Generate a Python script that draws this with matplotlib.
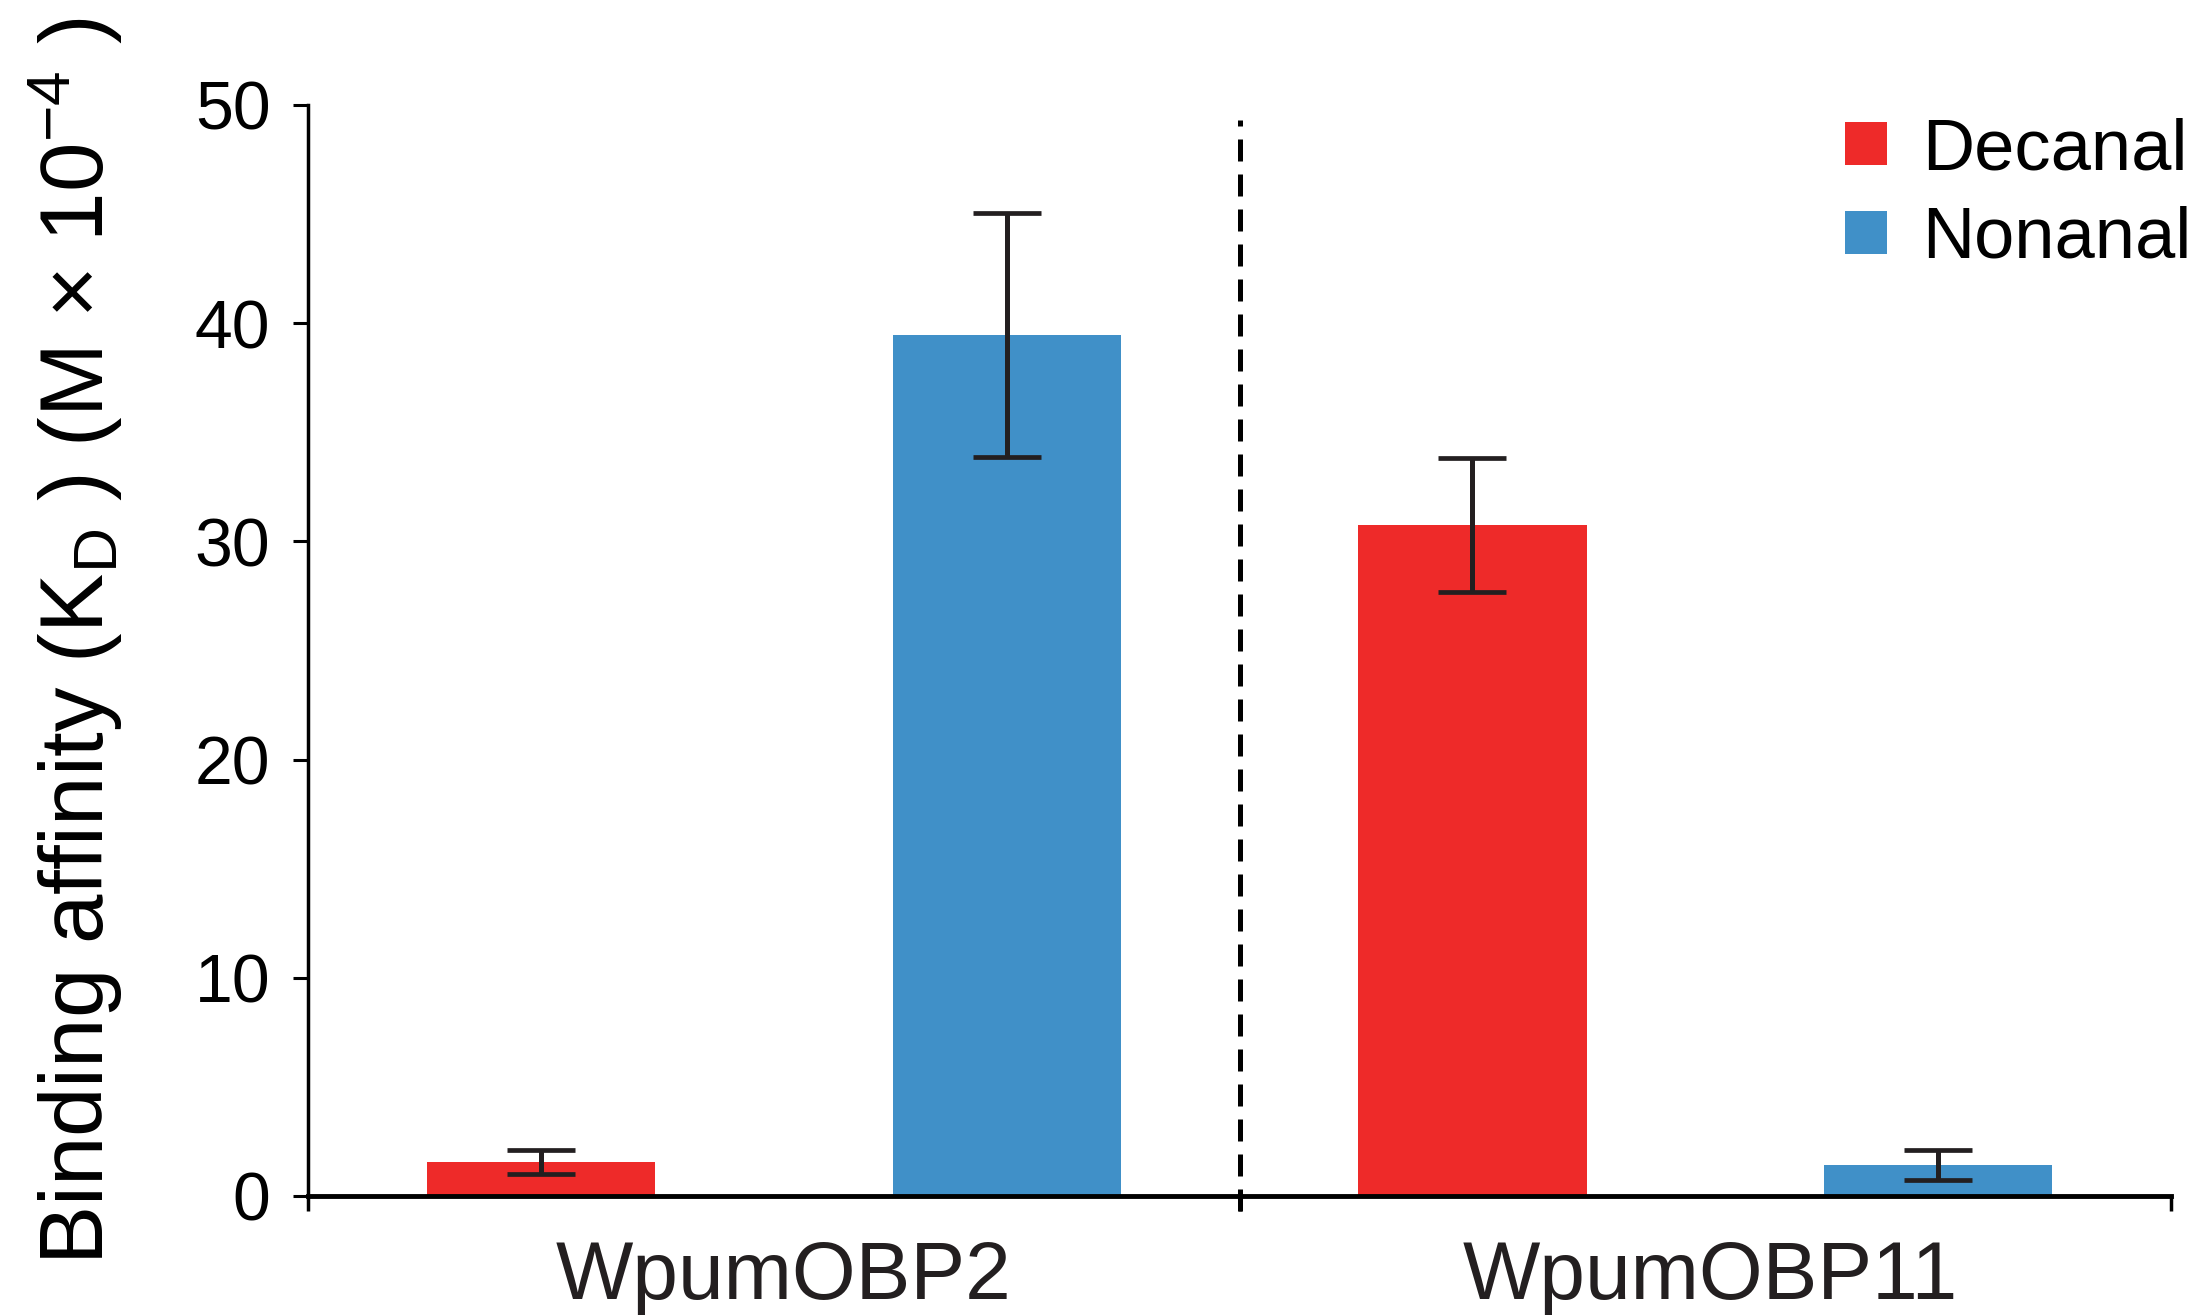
import matplotlib
matplotlib.use("Agg")
import matplotlib.pyplot as plt

plt.rcParams["font.family"] = ["Liberation Sans", "DejaVu Sans"]
plt.rcParams["mathtext.fontset"] = "custom"
plt.rcParams["mathtext.rm"] = "Liberation Sans"
plt.rcParams["mathtext.it"] = "Liberation Sans:italic"

# Data
proteins = ["WpumOBP2", "WpumOBP11"]
ligands = ["Decanal", "Nonanal"]
decanal_kd = [1.55, 30.75]
decanal_err = [0.54, 3.08]
nonanal_kd = [39.46, 1.42]
nonanal_err = [5.58, 0.68]

red = "#ee2a29"
blue = "#4090c8"
ink = "#231f20"

fig = plt.figure(figsize=(22.03, 13.15), dpi=100)
ax = fig.add_axes([0.1398, 0.0905, 0.8457, 0.8297])

# Bars: each protein gets a group of width 2
dec_pos = [0.5, 2.5]
non_pos = [1.5, 3.5]
err_kw = dict(ecolor=ink, elinewidth=3.6, capthick=3.4, capsize=24.5)
b_dec = ax.bar(dec_pos, decanal_kd, width=0.49, color=red, yerr=decanal_err,
               error_kw=err_kw, label=ligands[0], zorder=2)
b_non = ax.bar(non_pos, nonanal_kd, width=0.49, color=blue, yerr=nonanal_err,
               error_kw=err_kw, label=ligands[1], zorder=2)

# Divider between the two proteins
ax.vlines(2, -0.7, 49.3, colors="black", linewidth=3.6,
          linestyles=(0, (4.4, 2.6)), clip_on=False, zorder=3)

ax.set_xlim(0, 4)
ax.set_ylim(0, 50)

# Spines
for s in ["top", "right"]:
    ax.spines[s].set_visible(False)
ax.spines["left"].set_linewidth(2.5)
ax.spines["bottom"].set_linewidth(3.5)
ax.spines["left"].set_zorder(4)
ax.spines["bottom"].set_zorder(4)

# Y axis
ax.set_yticks([0, 10, 20, 30, 40, 50])
ax.tick_params(axis="y", direction="out", length=11, width=2.2, pad=16,
               labelsize=49, colors="black")

# X axis: group boundaries as ticks, protein names centered
ax.set_xticks([0, 2, 4])
ax.set_xticklabels(["", "", ""])
ax.tick_params(axis="x", which="major", direction="out", length=11, width=2.5)
ax.set_xticks([1.02, 3.01], minor=True)
ax.set_xticklabels(proteins, minor=True)
ax.tick_params(axis="x", which="minor", length=0, pad=32, labelsize=59,
               labelcolor=ink)

ax.set_ylabel(r"Binding affinity (K$_\mathregular{D}$ ) (M $\mathregular{\times}$ 10$^\mathregular{-4}$ )",
              fontsize=64)
ax.yaxis.set_label_coords(-0.098, 0.508)

# Legend
ax.legend(handles=[b_dec, b_non], labels=ligands, loc="upper right",
          bbox_to_anchor=(2192 / 2203, 1 - 117 / 1315),
          bbox_transform=fig.transFigure, frameon=False, borderpad=0,
          borderaxespad=0, handlelength=0.57, handleheight=0.54,
          handletextpad=0.5, labelspacing=0.3,
          prop={"size": 52})

fig.savefig("out.png", dpi=100)
